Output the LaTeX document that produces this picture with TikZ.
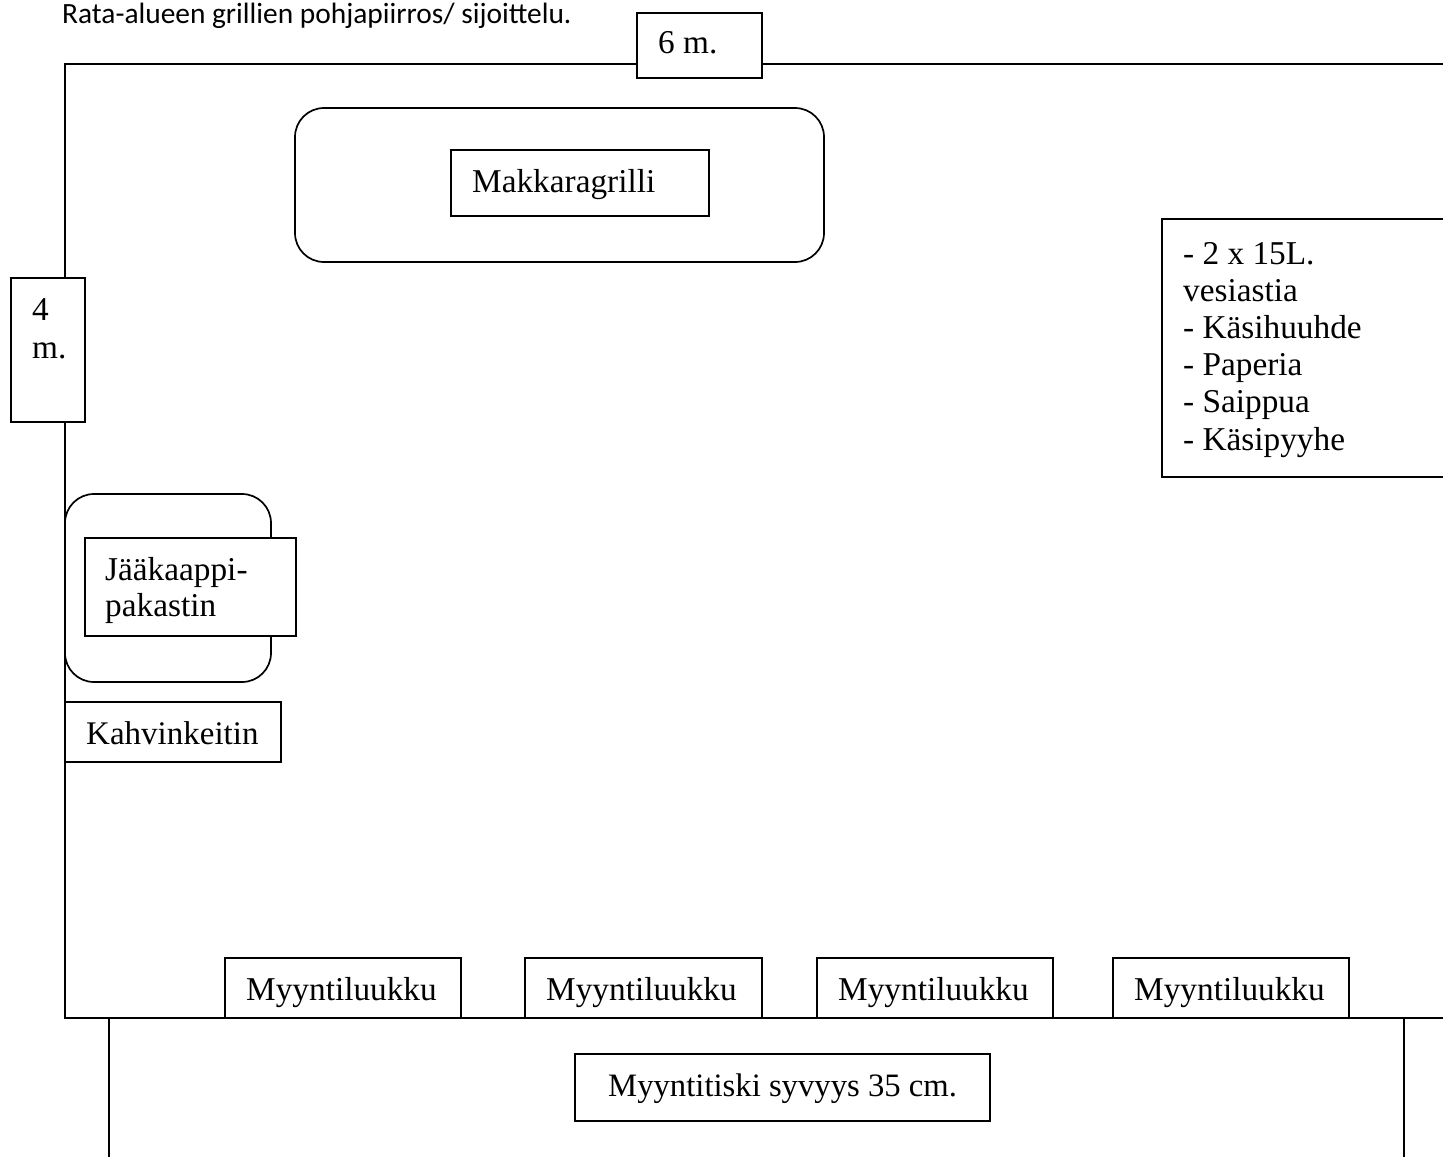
\documentclass[tikz,border=0pt]{standalone}
\usepackage{fontspec}
\setmainfont{Liberation Serif}
\newfontfamily\titlefont{Carlito}
\tikzset{
  x=1pt,y=-1pt,
  wall/.style={draw=black,line width=1.7pt},
  box/.style={draw=black,line width=1.7pt,fill=white},
  round/.style={draw=black,line width=1.7pt,fill=white,rounded corners=29pt},
  lab/.style={anchor=base west,inner sep=0pt,yshift=-1pt,font=\fontsize{33.3}{37}\selectfont,align=left},
}
\begin{document}
\begin{tikzpicture}
\useasboundingbox (0,0) rectangle (1443,1157);
\fill[white] (0,0) rectangle (1443,1157);
\node[anchor=base west,inner sep=0pt,font=\titlefont\fontsize{29.4}{32}\selectfont] (title) at (62,23) {Rata-alueen grillien pohjapiirros/ sijoittelu.};
\coordinate (wallTR) at (1443,64);
\coordinate (wallTL) at (65,64);
\coordinate (wallBL) at (65,1018);
\coordinate (wallBR) at (1443,1018);
\draw[wall] (wallTR) -- (wallTL) -- (wallBL) -- (wallBR);
\coordinate (cTL) at (109,1018);
\coordinate (cBL) at (109,1157);
\coordinate (cTR) at (1404,1018);
\coordinate (cBR) at (1404,1157);
\draw[wall] (cTL) -- (cBL);
\draw[wall] (cTR) -- (cBR);
\draw[box] (637,13) rectangle (762,78);
\node[lab] (six) at (658,52) {6 m.};
\draw[round] (295,108) rectangle (824,262);
\draw[box] (451,150) rectangle (709,216);
\node[lab] (grill) at (472,191) {Makkaragrilli};
\draw[box] (11,278) rectangle (85,422);
\node[lab] (four) at (32,319) {4};
\node[lab] (fourm) at (32,357) {m.};
\draw[round] (65,494) rectangle (271,682);
\draw[box] (85,538) rectangle (296,636);
\node[lab] (jk1) at (105,579) {Jääkaappi-};
\node[lab] (jk2) at (105,615) {pakastin};
\draw[box] (65,702) rectangle (281,762);
\node[lab,font=\fontsize{33}{37}\selectfont] (kahvi) at (86,743) {Kahvinkeitin};
\draw[box] (1443,219) -- (1162,219) -- (1162,477) -- (1443,477);
\node[lab] (w1) at (1183,263) {- 2 x 15L.};
\node[lab] (w2) at (1183,300) {vesiastia};
\node[lab] (w3) at (1183,337) {- Käsihuuhde};
\node[lab] (w4) at (1183,374) {- Paperia};
\node[lab] (w5) at (1183,411) {- Saippua};
\node[lab] (w6) at (1183,449) {- Käsipyyhe};
\draw[box] (225,958) rectangle (461,1018);
\node[lab] (m1) at (246,999) {Myyntiluukku};
\draw[box] (525,958) rectangle (762,1018);
\node[lab] (m2) at (546,999) {Myyntiluukku};
\draw[box] (817,958) rectangle (1053,1018);
\node[lab] (m3) at (838,999) {Myyntiluukku};
\draw[box] (1113,958) rectangle (1349,1018);
\node[lab] (m4) at (1134,999) {Myyntiluukku};
\draw[box] (575,1054) rectangle (990,1121);
\node[lab,font=\fontsize{32.7}{37}\selectfont] (tiski) at (608,1095) {Myyntitiski syvyys 35 cm.};
\end{tikzpicture}
\end{document}
